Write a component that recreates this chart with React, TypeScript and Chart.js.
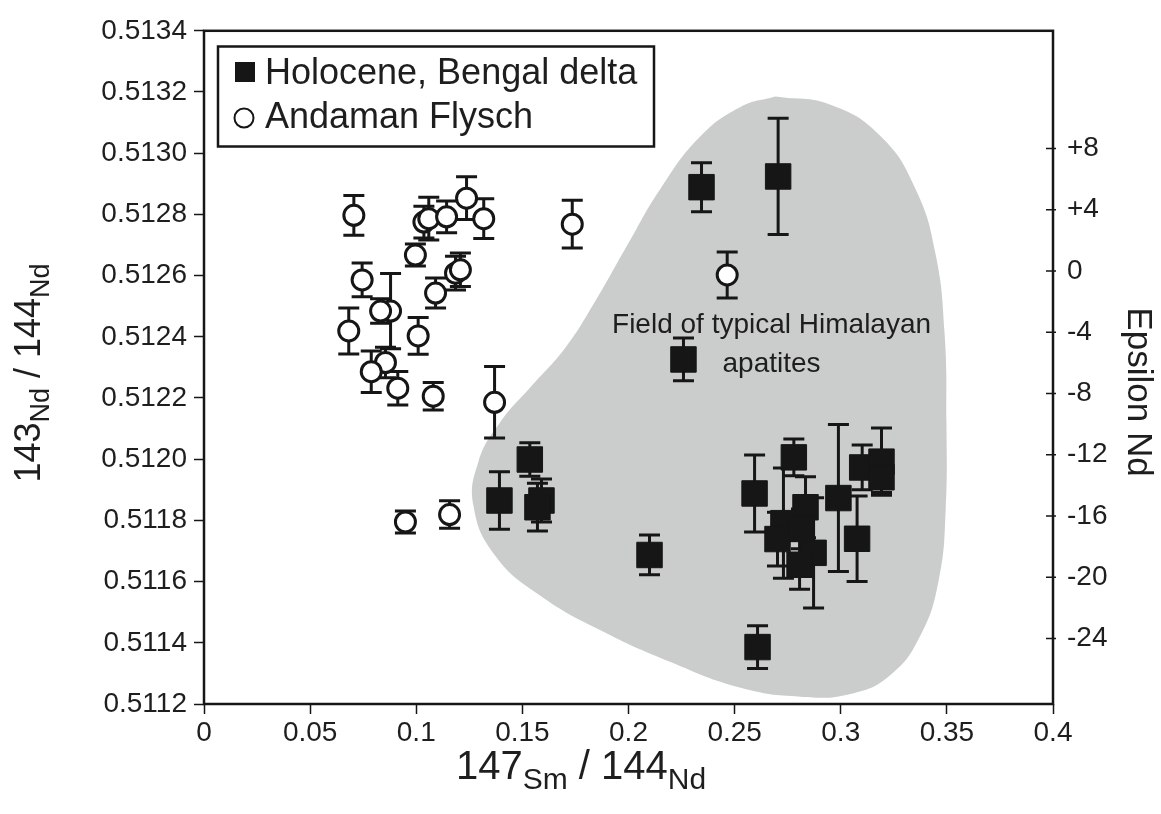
import React, { useEffect, useRef } from 'react';
import { Chart, registerables } from 'chart.js';

Chart.register(...registerables);

// ---------- data ----------
const seriesLabels = ['Holocene, Bengal delta', 'Andaman Flysch'];

const holoceneX = [0.2344, 0.2705, 0.2259, 0.1535, 0.1392, 0.159, 0.1571, 0.2099, 0.2608, 0.2594, 0.2779, 0.2834, 0.273, 0.2702, 0.2872, 0.2806, 0.2989, 0.3077, 0.3101, 0.3192, 0.3192, 0.2815];
const holoceneY = [0.512889, 0.512924, 0.512326, 0.511999, 0.511865, 0.511865, 0.511843, 0.511687, 0.511386, 0.511888, 0.512006, 0.511843, 0.511791, 0.511739, 0.511694, 0.511655, 0.511873, 0.51174, 0.511973, 0.511992, 0.511941, 0.511772];
const holoceneErr = [0.00008, 0.00019, 0.00007, 0.000055, 0.000094, 0.00007, 0.000078, 0.000065, 0.00007, 0.000126, 0.00006, 0.0001, 0.00018, 0.000088, 0.00018, 0.00008, 0.00024, 0.00014, 0.000073, 0.00011, 0.00005, 0.000065];

const flyschX = [0.0706, 0.1036, 0.1059, 0.1143, 0.1237, 0.1318, 0.0996, 0.0745, 0.1185, 0.1208, 0.1091, 0.0879, 0.0832, 0.0682, 0.1009, 0.0855, 0.0788, 0.0913, 0.108, 0.1369, 0.0949, 0.1157, 0.1735, 0.2465];
const flyschY = [0.512797, 0.512775, 0.512786, 0.512792, 0.512853, 0.512786, 0.512667, 0.512586, 0.512608, 0.512619, 0.512543, 0.512484, 0.512484, 0.512419, 0.512403, 0.512316, 0.512286, 0.512232, 0.512206, 0.512186, 0.511795, 0.511819, 0.512768, 0.512602];
const flyschErr = [0.000065, 0.000052, 0.00007, 0.000052, 0.00007, 0.000065, 0.000036, 0.000055, 0.000055, 0.000055, 0.000049, 0.000123, 0.00004, 0.000075, 0.00006, 0.00005, 0.000068, 0.000055, 0.000045, 0.000117, 0.000036, 0.000045, 0.000078, 0.000075];

// outline of the "Field of typical Himalayan apatites"
const fieldX = [0.2692, 0.2952, 0.3188, 0.3352, 0.3446, 0.3489, 0.3498, 0.3494, 0.3461, 0.3376, 0.3234, 0.3046, 0.281, 0.2528, 0.2198, 0.1868, 0.1585, 0.1373, 0.127, 0.1293, 0.1397, 0.1538, 0.1703, 0.1844, 0.1986, 0.215, 0.2339, 0.2528, 0.2692];
const fieldY = [0.513185, 0.513158, 0.513055, 0.512883, 0.512673, 0.512413, 0.512122, 0.51183, 0.511603, 0.511425, 0.511295, 0.511233, 0.511224, 0.511253, 0.511337, 0.511441, 0.511554, 0.511684, 0.511846, 0.511992, 0.512122, 0.512235, 0.512365, 0.512517, 0.512689, 0.512883, 0.513055, 0.513151, 0.513185];
const fieldLabel = ['Field of typical Himalayan', 'apatites'];

const xTicks = [0, 0.05, 0.1, 0.15, 0.2, 0.25, 0.3, 0.35, 0.4];
const yTicks = [0.5112, 0.5114, 0.5116, 0.5118, 0.512, 0.5122, 0.5124, 0.5126, 0.5128, 0.513, 0.5132, 0.5134];
const epsTicks = [-24, -20, -16, -12, -8, -4, 0, 4, 8];

const xTitle = [['147', 'big'], ['Sm', 'small'], [' / ', 'big'], ['144', 'big'], ['Nd', 'small']];
const yTitle = [['143', 'big'], ['Nd', 'small'], [' / ', 'big'], ['144', 'big'], ['Nd', 'small']];
const y2Title = 'Epsilon Nd';

// ---------- styling ----------
const FONT = '"Liberation Sans", Arial, Helvetica, sans-serif';
const INK = '#161616';
const TEXT = '#1e1e1e';

function drawMixed(ctx: CanvasRenderingContext2D, segs: string[][], big: number, small: number, drop: number) {
  let total = 0;
  const widths: number[] = [];
  for (const [t, k] of segs) {
    ctx.font = `${k === 'big' ? big : small}px ${FONT}`;
    const w = ctx.measureText(t).width;
    widths.push(w);
    total += w;
  }
  let x = -total / 2;
  ctx.textAlign = 'left';
  ctx.textBaseline = 'alphabetic';
  segs.forEach(([t, k], i) => {
    ctx.font = `${k === 'big' ? big : small}px ${FONT}`;
    ctx.fillText(t, x, k === 'big' ? 0 : drop);
    x += widths[i];
  });
}

function drawErrorBars(chart: any, xs: number[], ys: number[], errs: number[]) {
  const ctx = chart.ctx;
  const xs_ = chart.scales.x;
  const ys_ = chart.scales.y;
  ctx.save();
  ctx.strokeStyle = INK;
  ctx.lineWidth = 3;
  for (let i = 0; i < xs.length; i++) {
    const px = xs_.getPixelForValue(xs[i]);
    const top = ys_.getPixelForValue(ys[i] + errs[i]);
    const bot = ys_.getPixelForValue(ys[i] - errs[i]);
    ctx.beginPath();
    ctx.moveTo(px, top);
    ctx.lineTo(px, bot);
    ctx.moveTo(px - 10.5, top);
    ctx.lineTo(px + 10.5, top);
    ctx.moveTo(px - 10.5, bot);
    ctx.lineTo(px + 10.5, bot);
    ctx.stroke();
  }
  ctx.restore();
}

const decorPlugin = {
  id: 'decor',
  afterDatasetDraw(chart: any, args: any) {
    if (args.index !== 0) return;
    drawErrorBars(chart, flyschX, flyschY, flyschErr);
    drawErrorBars(chart, holoceneX, holoceneY, holoceneErr);
  },
  afterDraw(chart: any) {
    const ctx: CanvasRenderingContext2D = chart.ctx;
    const a = chart.chartArea;
    const xs = chart.scales.x;
    const ys = chart.scales.y;
    const es = chart.scales.yEps;
    ctx.save();
    // frame
    ctx.strokeStyle = INK;
    ctx.lineWidth = 2.5;
    ctx.strokeRect(a.left, a.top, a.right - a.left, a.bottom - a.top);
    // right axis tick marks (crossing the axis)
    ctx.lineWidth = 1.5;
    ctx.beginPath();
    for (const v of epsTicks) {
      const py = es.getPixelForValue(v);
      ctx.moveTo(a.right - 7, py);
      ctx.lineTo(a.right + 3, py);
    }
    ctx.stroke();

    // legend
    ctx.lineWidth = 2.5;
    ctx.strokeRect(218, 46.5, 436, 100);
    ctx.fillStyle = INK;
    ctx.fillRect(235, 62, 20, 20);
    ctx.beginPath();
    ctx.lineWidth = 2;
    ctx.arc(244, 118, 9.5, 0, Math.PI * 2);
    ctx.fillStyle = '#fff';
    ctx.fill();
    ctx.stroke();
    ctx.fillStyle = TEXT;
    ctx.font = `36px ${FONT}`;
    ctx.textAlign = 'left';
    ctx.textBaseline = 'middle';
    ctx.fillText(seriesLabels[0], 265, 74);
    ctx.fillText(seriesLabels[1], 265, 118);

    // field annotation
    ctx.font = `28px ${FONT}`;
    ctx.textAlign = 'center';
    const cx = xs.getPixelForValue(0.2674);
    ctx.fillText(fieldLabel[0], cx, ys.getPixelForValue(0.512439));
    ctx.fillText(fieldLabel[1], cx, ys.getPixelForValue(0.51231));

    // x title
    ctx.save();
    ctx.translate(581, 779);
    drawMixed(ctx, xTitle, 40, 30, 10);
    ctx.restore();

    // left title
    ctx.save();
    ctx.translate(40, 373);
    ctx.rotate(-Math.PI / 2);
    drawMixed(ctx, yTitle, 36, 27, 9);
    ctx.restore();

    // right title
    ctx.save();
    ctx.translate(1138, 392);
    ctx.rotate(Math.PI / 2);
    ctx.font = `35px ${FONT}`;
    ctx.textAlign = 'center';
    ctx.textBaseline = 'middle';
    ctx.fillText(y2Title, 0, 0);
    ctx.restore();

    ctx.restore();
  },
};

const tickFont = { size: 28, family: FONT };

export default function App() {
  const ref = useRef<HTMLCanvasElement | null>(null);
  useEffect(() => {
    const canvas = ref.current;
    if (!canvas) return;
    const chart = new Chart(canvas, {
      type: 'scatter',
      data: {
        datasets: [
          {
            label: 'field',
            data: fieldX.map((x, i) => ({ x, y: fieldY[i] })),
            showLine: true,
            tension: 0.45,
            fill: 'shape',
            backgroundColor: '#cbcccc',
            borderColor: '#cbcccc',
            borderWidth: 0,
            pointRadius: 0,
            order: 5,
          } as any,
          {
            label: seriesLabels[0],
            data: holoceneX.map((x, i) => ({ x, y: holoceneY[i] })),
            pointStyle: 'rect',
            pointRadius: 18,
            backgroundColor: INK,
            borderColor: INK,
            borderWidth: 1,
            order: 1,
          },
          {
            label: seriesLabels[1],
            data: flyschX.map((x, i) => ({ x, y: flyschY[i] })),
            pointStyle: 'circle',
            pointRadius: 10,
            backgroundColor: '#ffffff',
            borderColor: INK,
            borderWidth: 3,
            order: 2,
          },
        ],
      },
      options: {
        responsive: false,
        animation: false,
        events: [],
        layout: { padding: { top: 25, left: 0, right: 0, bottom: 0 } },
        plugins: { legend: { display: false }, tooltip: { enabled: false }, title: { display: false } },
        scales: {
          x: {
            type: 'linear',
            min: 0,
            max: 0.4,
            afterBuildTicks: (s: any) => { s.ticks = xTicks.map((v) => ({ value: v })); },
            afterFit: (s: any) => { s.height = 110; },
            ticks: { font: tickFont, color: TEXT, padding: 2, maxRotation: 0, autoSkip: false, callback: (v: any) => String(v) },
            grid: { drawOnChartArea: false, tickLength: 10, tickWidth: 1.5, tickColor: INK },
            border: { display: false },
          },
          y: {
            type: 'linear',
            position: 'left',
            min: 0.5112,
            max: 0.5134,
            afterBuildTicks: (s: any) => { s.ticks = yTicks.map((v) => ({ value: v })); },
            afterFit: (s: any) => { s.width = 204; },
            ticks: { font: tickFont, color: TEXT, padding: 7, autoSkip: false, callback: (v: any) => Number(v).toFixed(4) },
            grid: { drawOnChartArea: false, tickLength: 10, tickWidth: 1.5, tickColor: INK },
            border: { display: false },
          },
          yEps: {
            type: 'linear',
            position: 'right',
            min: -28.28,
            max: 15.68,
            afterBuildTicks: (s: any) => { s.ticks = epsTicks.map((v) => ({ value: v })); },
            afterFit: (s: any) => { s.width = 108; },
            ticks: { font: tickFont, color: TEXT, padding: 14, autoSkip: false, callback: (v: any) => (v > 0 ? '+' + v : String(v)) },
            grid: { drawOnChartArea: false, drawTicks: false },
            border: { display: false },
          },
        },
      },
      plugins: [decorPlugin],
    });
    return () => chart.destroy();
  }, []);
  return (
    <div style={{ position: 'fixed', left: 0, top: 0, width: 1161, height: 814, background: '#fff' }}>
      <canvas ref={ref} width={1161} height={814} style={{ width: 1161, height: 814, display: 'block' }} />
    </div>
  );
}
